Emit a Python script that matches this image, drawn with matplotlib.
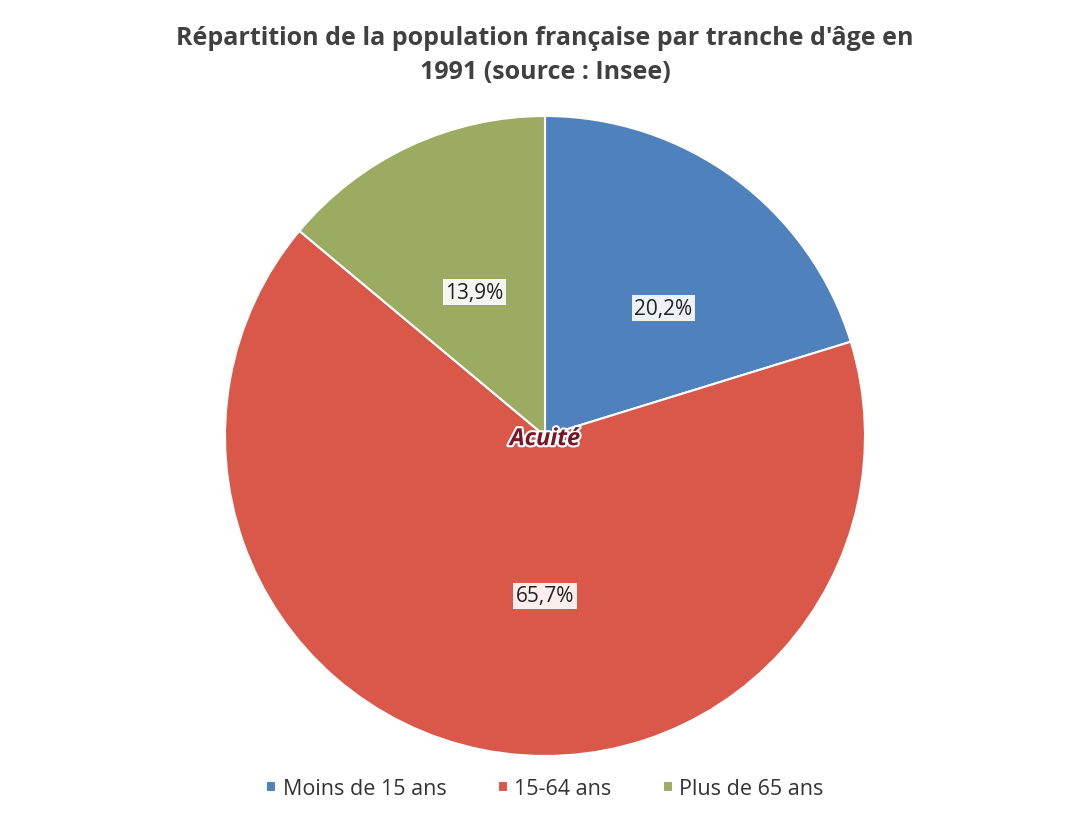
import matplotlib
matplotlib.use("Agg")
import matplotlib.pyplot as plt
import matplotlib.patheffects as pe

labels = ["Moins de 15 ans", "15-64 ans", "Plus de 65 ans"]
values = [20.2, 65.7, 13.9]
pct_text = ["20,2%", "65,7%", "13,9%"]
colors = ["#4f81bd", "#d9584a", "#9bab62"]

plt.rcParams["font.family"] = ["Open Sans", "DejaVu Sans"]

fig = plt.figure(figsize=(10.9, 8.28), dpi=100)
ax = fig.add_axes([225 / 1090, (828 - 437 - 320) / 828, 640 / 1090, 640 / 828])
wedges, _ = ax.pie(values, colors=colors, startangle=90, counterclock=False,
                   wedgeprops={"edgecolor": "white", "linewidth": 1.5})
ax.set_xlim(-1, 1)
ax.set_ylim(-1, 1)
ax.set_aspect("equal")

pos = [(0.37, 0.40), (0.0, -0.50), (-0.22, 0.45)]
for (x, y), t in zip(pos, pct_text):
    ax.text(x, y, t, ha="center", va="center", fontsize=15, color="#222222",
            bbox={"facecolor": "white", "edgecolor": "none", "pad": 2, "alpha": 0.9})

ax.text(0.0, -0.01, "Acuité", ha="center", va="center", fontsize=17,
        fontweight="bold", style="italic", color="#7a1528",
        path_effects=[pe.withStroke(linewidth=3, foreground="white")])

fig.suptitle("Répartition de la population française par tranche d'âge en\n1991 (source : Insee)",
             y=0.968, fontsize=18, fontweight="bold", color="#404040", linespacing=1.45)

fig.legend(wedges, labels, loc="lower center", bbox_to_anchor=(0.5, 0.01), ncol=3,
           frameon=False, fontsize=15.5, handlelength=0.45, handleheight=0.45,
           columnspacing=2.4, handletextpad=0.3, labelcolor="#333333")

fig.savefig("out.png", dpi=100)
